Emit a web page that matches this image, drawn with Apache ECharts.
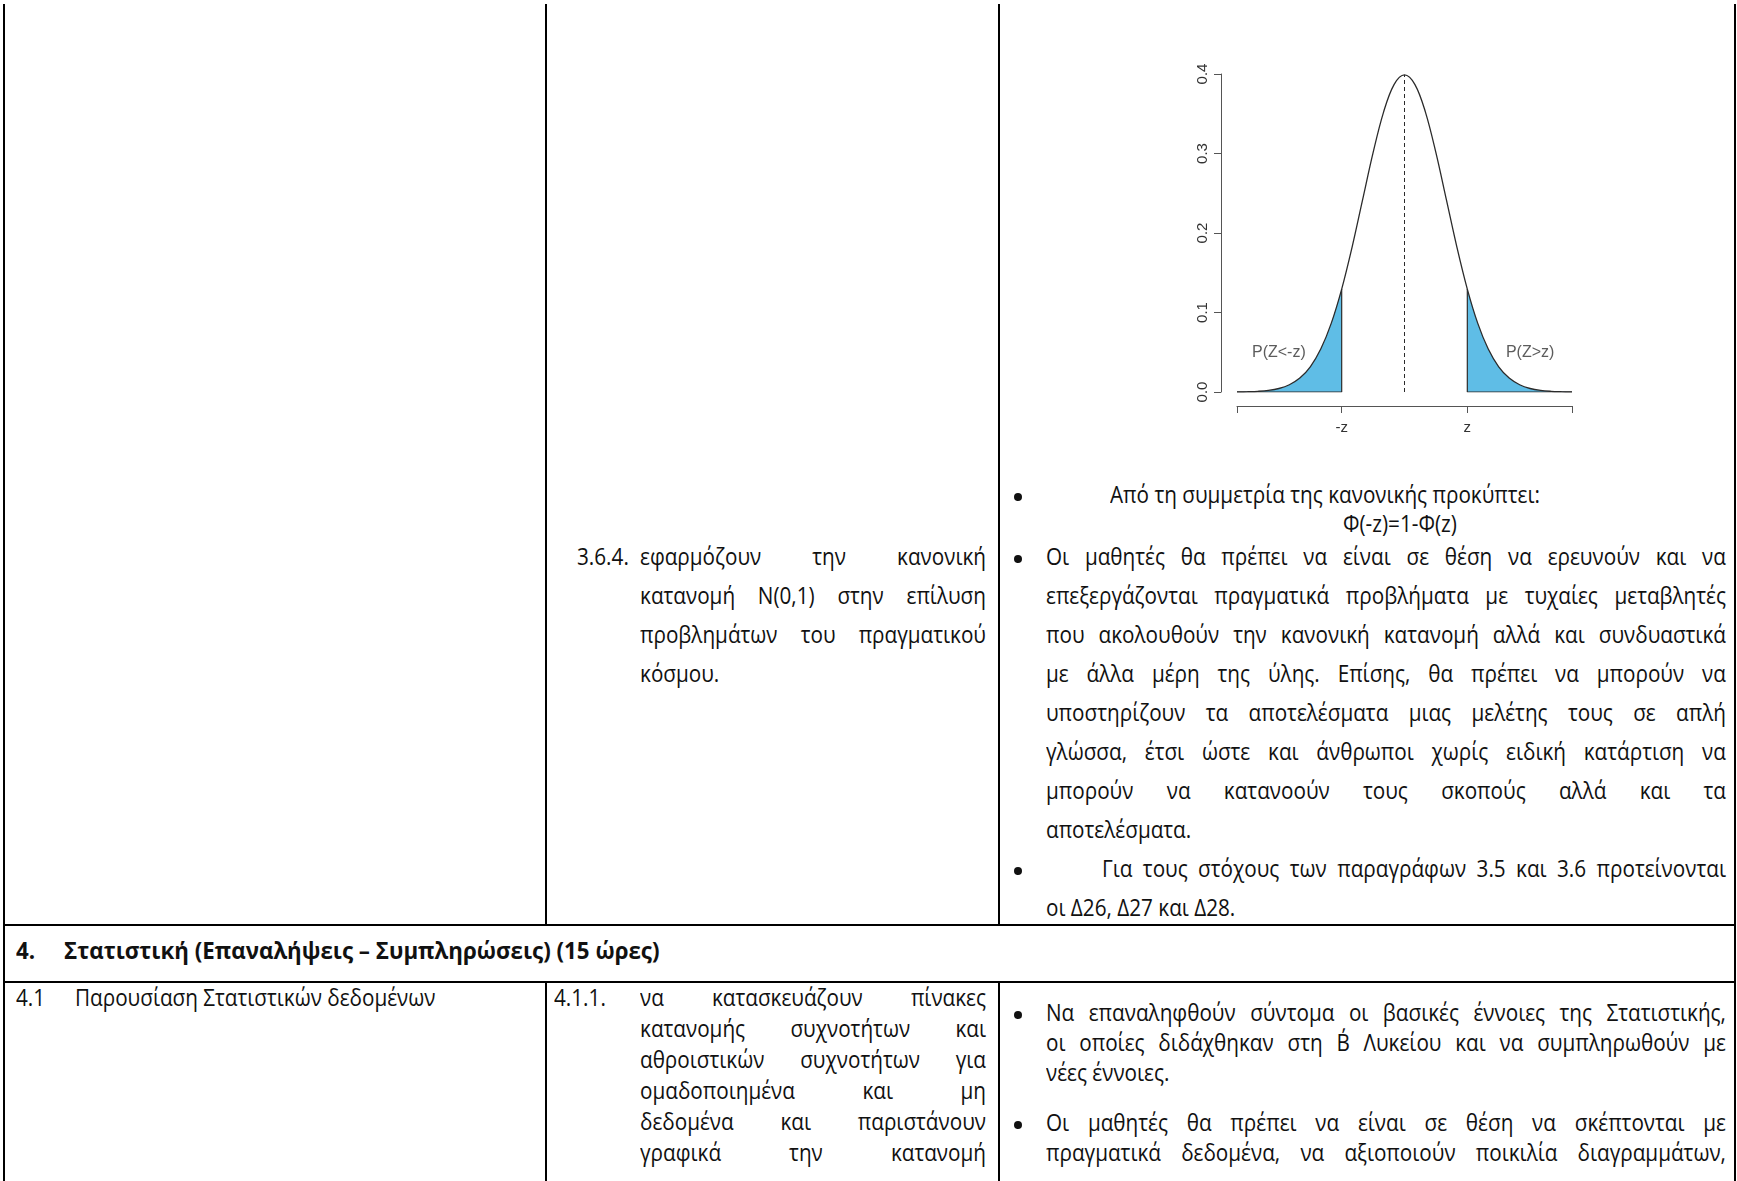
<!DOCTYPE html>
<html lang="el">
<head>
<meta charset="UTF-8">
<title>Κανονική κατανομή N(0,1)</title>
<script src="https://cdn.jsdelivr.net/npm/echarts@6/dist/echarts.min.js"></script>
<style>
    body { margin: 0; background: #fff; }
    #page { position: relative; width: 1737px; height: 1181px; overflow: hidden;
            font-family: 'Open Sans', 'Noto Sans', sans-serif; font-size: 23px; color: #111; }
    .ln { position: absolute; background: #000; }
    .tx { position: absolute; white-space: nowrap; line-height: 28px; height: 28px; transform-origin: left center; }
    .jt { display: flex; justify-content: space-between; }
    .bul { position: absolute; width: 8px; height: 8px; border-radius: 50%; background: #111; }
    #chart { position: absolute; left: 1001px; top: 0; width: 733px; height: 470px; }
</style>
</head>
<body>
<div id="page"><div id="chart"></div></div>
<script>
    // normal curve
    var zVals   = [-4, -3.75, -3.5, -3.25, -3, -2.75, -2.5, -2.25, -2, -1.75, -1.5, -1.25, -1, -0.75, -0.5, -0.25,
                   0, 0.25, 0.5, 0.75, 1, 1.25, 1.5, 1.75, 2, 2.25, 2.5, 2.75, 3, 3.25, 3.5, 3.75, 4];
    var density = [0.0001, 0.0004, 0.0009, 0.002, 0.0044, 0.0091, 0.0175, 0.0317, 0.054, 0.0863, 0.1295, 0.1826,
                   0.242, 0.3011, 0.3521, 0.3867, 0.3989, 0.3867, 0.3521, 0.3011, 0.242, 0.1826, 0.1295, 0.0863,
                   0.054, 0.0317, 0.0175, 0.0091, 0.0044, 0.002, 0.0009, 0.0004, 0.0001];
    var zCut = 1.5;          // where "z" sits on the axis
    var zCutDensity = 0.1295;
    var peak = 0.3989;

    var xTickValues = [-4, -zCut, zCut, 4];
    var xTickLabels = ['', '-z', 'z', ''];
    var yTicks = [0, 0.1, 0.2, 0.3, 0.4];
    var tailNames = ['P(Z<-z)', 'P(Z>z)'];
    var tailNameAt = [[-3, 0.05], [3, 0.05]];

    // texts of the table
    var col3Top = [
        'Από τη συμμετρία της κανονικής προκύπτει:',
        'Φ(-z)=1-Φ(z)',
        'Οι μαθητές θα πρέπει να είναι σε θέση να ερευνούν και να',
        'επεξεργάζονται πραγματικά προβλήματα με τυχαίες μεταβλητές',
        'που ακολουθούν την κανονική κατανομή αλλά και συνδυαστικά',
        'με άλλα μέρη της ύλης. Επίσης, θα πρέπει να μπορούν να',
        'υποστηρίζουν τα αποτελέσματα μιας μελέτης τους σε απλή',
        'γλώσσα, έτσι ώστε και άνθρωποι χωρίς ειδική κατάρτιση να',
        'μπορούν να κατανοούν τους σκοπούς αλλά και τα',
        'αποτελέσματα.',
        'Για τους στόχους των παραγράφων 3.5 και 3.6 προτείνονται',
        'οι Δ26, Δ27 και Δ28.'
    ];
    var col2TopNum = '3.6.4.';
    var col2Top = ['εφαρμόζουν την κανονική', 'κατανομή N(0,1) στην επίλυση', 'προβλημάτων του πραγματικού', 'κόσμου.'];
    var headingNum = '4.';
    var headingText = 'Στατιστική (Επαναλήψεις – Συμπληρώσεις) (15 ώρες)';
    var col1BotNum = '4.1';
    var col1Bot = 'Παρουσίαση Στατιστικών δεδομένων';
    var col2BotNum = '4.1.1.';
    var col2Bot = ['να κατασκευάζουν πίνακες', 'κατανομής συχνοτήτων και', 'αθροιστικών συχνοτήτων για',
                   'ομαδοποιημένα και μη', 'δεδομένα και παριστάνουν', 'γραφικά την κατανομή'];
    var col3Bot = [
        'Να επαναληφθούν σύντομα οι βασικές έννοιες της Στατιστικής,',
        'οι οποίες διδάχθηκαν στη Β΄ Λυκείου και να συμπληρωθούν με',
        'νέες έννοιες.',
        'Οι μαθητές θα πρέπει να είναι σε θέση να σκέπτονται με',
        'πραγματικά δεδομένα, να αξιοποιούν ποικιλία διαγραμμάτων,'
    ];

    var page = document.getElementById('page');
    var squeeze = 0.9;   // the document font is narrower than Open Sans

    function rule(x, y, w, h) {
        var d = document.createElement('div');
        d.className = 'ln';
        d.style.cssText = 'left:' + x + 'px;top:' + y + 'px;width:' + w + 'px;height:' + h + 'px';
        page.appendChild(d);
    }

    function bullet(x, yc) {
        var d = document.createElement('div');
        d.className = 'bul';
        d.style.left = (x - 4) + 'px';
        d.style.top = (yc - 4) + 'px';
        page.appendChild(d);
    }

    // x2 given -> justified line between x1 and x2
    function put(text, x1, x2, yc, bold, sq) {
        var s = sq || squeeze;
        var d = document.createElement('div');
        d.className = 'tx';
        d.style.left = x1 + 'px';
        d.style.top = (yc - 17) + 'px';
        if (bold) d.style.fontWeight = '700';
        if (x2) {
            d.className += ' jt';
            d.style.width = ((x2 - x1) / s) + 'px';
            text.split(' ').forEach(function (w) {
                var sp = document.createElement('span');
                sp.textContent = w;
                d.appendChild(sp);
            });
        } else {
            d.textContent = text;
        }
        page.appendChild(d);
        if (x2) {
            var sum = 0, spans = d.children;
            for (var i = 0; i < spans.length; i++) sum += spans[i].getBoundingClientRect().width;
            sum += (spans.length - 1) * 5;
            if (sum > (x2 - x1) / s) {
                d.style.width = sum + 'px';
                s = (x2 - x1) / sum;
            }
        }
        d.style.transform = 'scaleX(' + s + ')';
        return d;
    }

    // table rules
    rule(3, 4, 2, 1177);
    rule(1734, 4, 2, 1177);
    rule(545, 4, 2, 921);
    rule(998, 4, 2, 921);
    rule(3, 924, 1733, 2);
    rule(3, 981, 1733, 2);
    rule(545, 981, 2, 200);
    rule(998, 981, 2, 200);

    // top row, right column
    var L = 1046, R = 1726;
    bullet(1018, 497);
    put(col3Top[0], 1110, null, 497);
    var phi = put(col3Top[1], 0, null, 526);
    phi.style.left = (1400 - phi.getBoundingClientRect().width / 2) + 'px';
    var rows = [559, 598, 637, 676, 715, 754, 793, 832, 871, 910];
    bullet(1018, rows[0]);
    for (var i = 0; i < 7; i++) put(col3Top[2 + i], L, R, rows[i]);
    put(col3Top[9], L, null, rows[7]);
    bullet(1018, rows[8]);
    put(col3Top[10], 1102, R, rows[8]);
    put(col3Top[11], L, null, rows[9]);

    // top row, middle column
    put(col2TopNum, 577, null, rows[0]);
    for (var j = 0; j < 3; j++) put(col2Top[j], 640, 986, rows[j]);
    put(col2Top[3], 640, null, rows[3]);

    // heading row
    put(headingNum, 16, null, 953, true, 0.97);
    put(headingText, 64, null, 953, true, 0.97);

    // bottom row
    put(col1BotNum, 16, null, 1000);
    put(col1Bot, 75, null, 1000);
    put(col2BotNum, 554, null, 1000);
    var botRows = [1000, 1031, 1062, 1093, 1124, 1155];
    for (var k = 0; k < col2Bot.length; k++) put(col2Bot[k], 640, 986, botRows[k]);
    var r3 = [1015, 1045, 1075, 1125, 1155];
    bullet(1018, r3[0]);
    put(col3Bot[0], L, R, r3[0]);
    put(col3Bot[1], L, R, r3[1]);
    put(col3Bot[2], L, null, r3[2]);
    bullet(1018, r3[3]);
    put(col3Bot[3], L, R, r3[3]);
    put(col3Bot[4], L, R, r3[4]);

    // the chart
    var curve = zVals.map(function (z, i) { return [z, density[i]]; });
    var leftTail = curve.filter(function (p) { return p[0] <= -zCut; });
    var rightTail = curve.filter(function (p) { return p[0] >= zCut; });
    var ink = '#2b2b2b';
    var fill = '#5fbde6';

    var myChart = echarts.init(document.getElementById('chart'));
    var option = {
        animation: false,
        textStyle: { fontFamily: 'Liberation Sans' },
        grid: { left: 236, top: 74, width: 335, height: 318 },
        xAxis: {
            type: 'value', min: -4, max: 4, offset: 14,
            axisLine: { onZero: false, lineStyle: { color: '#555', width: 1 } },
            axisTick: { customValues: xTickValues, length: 7, lineStyle: { color: '#555' } },
            axisLabel: {
                customValues: [-zCut, zCut], margin: 14, fontSize: 15, color: '#333',
                formatter: function (v) { var i = xTickValues.indexOf(v); return i < 0 ? '' : xTickLabels[i]; }
            },
            splitLine: { show: false }
        },
        yAxis: {
            type: 'value', min: yTicks[0], max: yTicks[yTicks.length - 1], interval: 0.1, offset: 16,
            axisLine: { show: true, onZero: false, lineStyle: { color: '#555', width: 1 } },
            axisTick: { show: true, length: 7, lineStyle: { color: '#555' } },
            axisLabel: { rotate: 90, margin: 11, fontSize: 15, color: '#333',
                         formatter: function (v) { return v.toFixed(1); } },
            splitLine: { show: false }
        },
        series: [
            { type: 'line', data: leftTail, smooth: 0.35, showSymbol: false, silent: true,
              lineStyle: { width: 0 }, areaStyle: { color: fill, opacity: 1 } },
            { type: 'line', data: rightTail, smooth: 0.35, showSymbol: false, silent: true,
              lineStyle: { width: 0 }, areaStyle: { color: fill, opacity: 1 } },
            { type: 'line', data: curve, smooth: 0.35, showSymbol: false, silent: true,
              lineStyle: { color: ink, width: 1.3 } },
            { type: 'line', data: [[-4, 0], [-zCut, 0], [-zCut, zCutDensity]], showSymbol: false, silent: true,
              lineStyle: { color: ink, width: 1.2 } },
            { type: 'line', data: [[zCut, zCutDensity], [zCut, 0], [4, 0]], showSymbol: false, silent: true,
              lineStyle: { color: ink, width: 1.2 } },
            { type: 'line', data: [[0, 0], [0, peak]], showSymbol: false, silent: true,
              lineStyle: { color: ink, width: 1, type: [4, 3] } },
            { type: 'scatter', symbolSize: 0, silent: true,
              data: tailNameAt.map(function (p, i) { return [p[0], p[1], tailNames[i]]; }),
              label: { show: true, position: 'inside', fontSize: 16, color: '#333',
                       formatter: function (p) { return p.data[2]; } } }
        ]
    };
    myChart.setOption(option);
</script>
</body>
</html>
